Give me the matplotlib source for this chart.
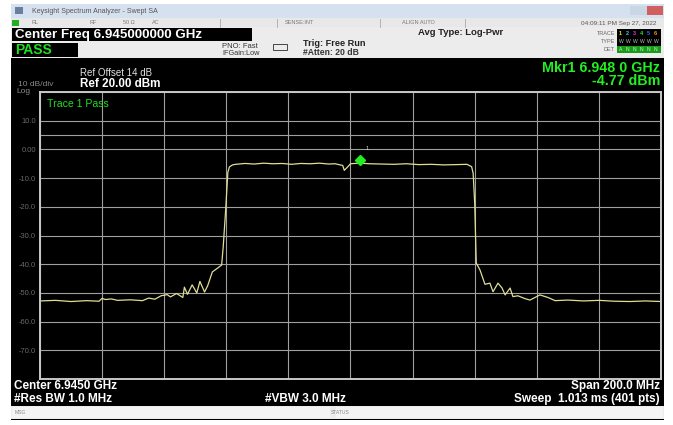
import matplotlib
matplotlib.use("Agg")
import matplotlib.pyplot as plt
from matplotlib.patches import Rectangle

plt.rcParams['font.family'] = ['Liberation Sans', 'DejaVu Sans']

# analyzer settings
center_ghz = 6.945
span_ghz = 0.200
ref_dbm = 20.0
db_per_div = 10.0
limit_dbm = 5.0
marker_freq = 6.948
marker_level = -4.77

# trace 1
freq_ghz = [6.845, 6.850, 6.855, 6.860, 6.864, 6.865, 6.866, 6.868, 6.870, 6.874,
            6.878, 6.880, 6.882, 6.884, 6.886, 6.887, 6.889, 6.891, 6.8915, 6.8925,
            6.894, 6.8955, 6.8965, 6.898, 6.899, 6.9005, 6.902, 6.9035, 6.904, 6.9048,
            6.9055, 6.906, 6.907, 6.908, 6.911, 6.914, 6.917, 6.920, 6.923, 6.926,
            6.929, 6.932, 6.935, 6.938, 6.940, 6.9425, 6.943, 6.944, 6.945, 6.948,
            6.951, 6.955, 6.959, 6.963, 6.967, 6.971, 6.975, 6.979, 6.9825, 6.984,
            6.9845, 6.9850, 6.9855, 6.9867, 6.9883, 6.9899, 6.9909, 6.9925, 6.9938, 6.9948,
            6.9964, 6.9973, 6.9989, 7.0012, 7.0028, 7.0060, 7.0086, 7.0109, 7.015, 7.020,
            7.025, 7.030, 7.035, 7.040, 7.045]
level_dbm = [-52.8, -52.6, -53.0, -52.7, -52.9, -51.9, -52.3, -52.1, -52.6, -52.4,
             -52.7, -51.8, -52.2, -51.0, -50.6, -51.4, -50.2, -51.6, -48.0, -50.5,
             -47.2, -50.0, -46.0, -49.7, -47.5, -42.7, -41.5, -40.3, -34.0, -21.0,
             -8.0, -6.1, -5.4, -5.2, -4.9, -5.1, -4.8, -5.0, -4.9, -5.2,
             -4.9, -5.0, -4.8, -5.1, -5.0, -5.6, -7.3, -6.2, -5.0, -4.77,
             -5.0, -5.1, -5.2, -5.0, -5.3, -5.2, -5.4, -5.3, -5.2, -6.0,
             -8.3, -18.7, -39.6, -42.0, -47.0, -46.6, -49.6, -46.6, -48.3, -50.7,
             -48.3, -51.3, -51.0, -52.0, -52.5, -50.7, -51.6, -52.7, -52.5, -52.8,
             -52.6, -52.9, -53.0, -52.8, -53.0]

W, H = 673, 425
fig = plt.figure(figsize=(W / 100, H / 100), dpi=100)
fig.patch.set_facecolor('white')

# whole-screen layer in pixel coordinates
bg = fig.add_axes([0, 0, 1, 1])
bg.set_xlim(0, W)
bg.set_ylim(H, 0)
bg.axis('off')


def box(x0, y0, x1, y1, color, **kw):
    bg.add_patch(Rectangle((x0, y0), x1 - x0, y1 - y0, facecolor=color, edgecolor='none', **kw))


def txt(x, y, s, **kw):
    kw.setdefault('va', 'center')
    bg.text(x, y, s, **kw)


box(11, 4, 664, 420, 'black')
# title bar
box(11, 4, 664, 18, '#d5e1ee')
box(15, 7, 23, 14, '#6a7fa0')
txt(32, 11, 'Keysight Spectrum Analyzer - Swept SA', fontsize=5, color='#555555')
box(630, 6, 647, 15, '#c9d6e6')
box(647, 6, 663, 15, '#d06060')
# status row
box(11, 18, 664, 27, '#e8e8e8')
box(12, 19.5, 19, 25.5, '#22b022')
for sx in [220, 277, 380, 465]:
    bg.plot([sx, sx], [18.5, 26.5], color='#aaaaaa', lw=0.6)
for sx, s in [(32, 'RL'), (90, 'RF'), (123, '50 Ω'), (152, 'AC'), (285, 'SENSE:INT'), (402, 'ALIGN AUTO')]:
    txt(sx, 22.5, s, fontsize=4, color='#777777')
txt(656, 23, '04:09:11 PM Sep 27, 2022', fontsize=4.6, color='#555555', ha='right')
# settings panel
box(11, 27, 664, 58, '#ececec')
box(12, 28, 252, 41, 'black')
txt(15, 34.5, 'Center Freq 6.945000000 GHz', fontsize=9.6, color='white', fontweight='bold')
box(12, 43, 78, 57, 'black')
txt(15, 50, 'PASS', fontsize=10, color='#22dd22', fontweight='bold')
txt(222, 46, 'PNO: Fast', fontsize=5.5, color='#333333')
txt(222, 53, 'IFGain:Low', fontsize=5.3, color='#333333')
bg.add_patch(Rectangle((273, 44), 14, 6, facecolor='none', edgecolor='#444444', lw=0.7))
txt(303, 43.5, 'Trig: Free Run', fontsize=6.6, color='#222222', fontweight='bold')
txt(303, 52, '#Atten: 20 dB', fontsize=6.2, color='#333333', fontweight='bold')
txt(418, 32.5, 'Avg Type: Log-Pwr', fontsize=6.8, color='#222222', fontweight='bold')
txt(615, 33, 'TRACE', fontsize=4, color='#666666', ha='right')
txt(615, 41.5, 'TYPE', fontsize=4, color='#666666', ha='right')
txt(615, 49.5, 'DET', fontsize=4, color='#666666', ha='right')
box(617, 29, 661, 53, 'black')
box(617, 46, 661, 53, '#1a9a1a')
for i, c in enumerate(['#e8e800', '#30d0e0', '#e030e0', '#30e030', '#4060ff', '#ff9020']):
    txt(619 + i * 7, 33, str(i + 1), fontsize=4, color=c, fontweight='bold')
    txt(619 + i * 7, 41.5, 'W', fontsize=3.6, color='#bbbbbb')
    txt(619 + i * 7, 49.5, 'A' if i == 0 else 'N', fontsize=3.6, color='#c0ffc0')

# readouts in the black area
txt(18, 84, '10 dB/div', fontsize=6, color='#8a8a8a')
txt(16, 91, 'Log', fontsize=6, color='#8a8a8a')
txt(80, 73, 'Ref Offset 14 dB', fontsize=7, color='#e0e0e0')
txt(80, 84, 'Ref 20.00 dBm', fontsize=8.4, color='white', fontweight='bold')
txt(660, 68, 'Mkr1 6.948 0 GHz', fontsize=10.3, color='#22ee22', fontweight='bold', ha='right')
txt(660, 81, '-4.77 dBm', fontsize=10.3, color='#22ee22', fontweight='bold', ha='right')

# bottom annotations
txt(14, 386, 'Center 6.9450 GHz', fontsize=8.5, color='white', fontweight='bold')
txt(14, 399, '#Res BW 1.0 MHz', fontsize=8.5, color='white', fontweight='bold')
txt(265, 399, '#VBW 3.0 MHz', fontsize=8.5, color='white', fontweight='bold')
txt(660, 386, 'Span 200.0 MHz', fontsize=8.5, color='white', fontweight='bold', ha='right')
txt(660, 399, 'Sweep  1.013 ms (401 pts)', fontsize=8.5, color='white', fontweight='bold', ha='right')
box(11, 406, 664, 419, '#ececec')
box(12, 407, 330, 418, '#f4f4f4')
box(336, 407, 663, 418, '#f4f4f4')
txt(15, 412.5, 'MSG', fontsize=3.6, color='#888888')
txt(331, 412.5, 'STATUS', fontsize=3.6, color='#888888')

# graticule
ax = fig.add_axes([40 / W, 1 - 379 / H, 621 / W, 287 / H])
ax.set_facecolor('black')
f0 = center_ghz - span_ghz / 2
f1 = center_ghz + span_ghz / 2
ax.set_xlim(f0, f1)
bottom = ref_dbm - 10 * db_per_div
ax.set_ylim(bottom, ref_dbm)
xt = [f0 + i * span_ghz / 10 for i in range(11)]
yt = [bottom + i * db_per_div for i in range(11)]
ax.set_xticks(xt)
ax.set_yticks(yt)
ax.grid(True, color='#a0a0a0', lw=0.8)
ax.axhline(limit_dbm, color='#a0a0a0', lw=0.8)
for sp in ax.spines.values():
    sp.set_color('#c8c8c8')
    sp.set_linewidth(1.4)
ax.tick_params(length=0, labelbottom=False, colors='#6a6a6a', labelsize=5.4, pad=3)
ylabels = []
for v in yt:
    if v in (bottom, ref_dbm):
        ylabels.append('')
    elif v == 0:
        ylabels.append('0.00')
    else:
        ylabels.append(f'{v:.1f}')
ax.set_yticklabels(ylabels)

ax.plot(freq_ghz, level_dbm, color='#dede96', lw=0.9)
ax.plot([marker_freq], [marker_level + 1.2], marker='D', ms=5.5, color='#22ee22', mec='#22ee22')
ax.text(marker_freq + 0.0018, marker_level + 4.5, '1', fontsize=4, color='#dddddd')
ax.text(0.011, 0.975, 'Trace 1 Pass', transform=ax.transAxes, fontsize=7.6, color='#22dd22', va='top')

fig.savefig('out.png', dpi=100, facecolor=fig.get_facecolor())
